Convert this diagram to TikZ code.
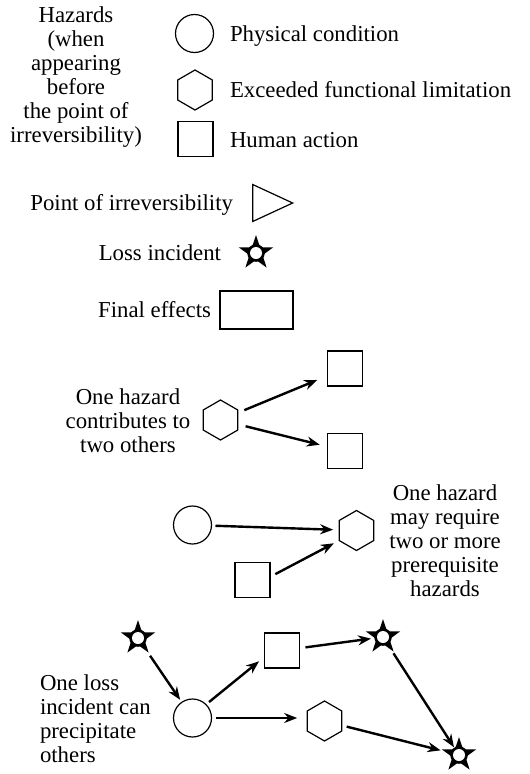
\documentclass[tikz,border=0pt]{standalone}
\usepackage{fontspec}
\setmainfont{Liberation Serif}
\usetikzlibrary{shapes.geometric,arrows.meta}
\begin{document}
\begin{tikzpicture}[x=1pt,y=-1pt,
  every node/.style={inner sep=0pt,outer sep=0pt},
  txt/.style={font=\fontsize{22.8}{24}\selectfont},
  shp/.style={draw,line width=1.2pt},
  circ/.style={shp,circle,minimum size=38pt},
  hexa/.style={shp,regular polygon,regular polygon sides=6,regular polygon rotate=30,minimum size=40pt},
  sqr/.style={shp,rectangle,minimum width=35pt,minimum height=35pt},
  lossstar/.style={star,star points=5,star point ratio=2.6,minimum size=36pt,fill=black},
  arr/.style={line width=2.4pt,-{Stealth[length=13pt,width=10pt]}},
]
\useasboundingbox (0,0) rectangle (530,774);

% legend of hazard symbols
\node[txt,align=center] (hz) at (76,77) {Hazards\\(when\\appearing\\before\\the point of\\irreversibility)};
\node[circ] (lc) at (194.5,33.5) {};
\node[hexa] (lh) at (195,90) {};
\node[sqr] (ls) at (195.5,139) {};
\node[txt,anchor=west] (lct) at (230,36) {Physical condition};
\node[txt,anchor=west] (lht) at (230,90) {Exceeded functional limitation};
\node[txt,anchor=west] (lst) at (230,140) {Human action};

% other legend symbols
\node[shp,isosceles triangle,isosceles triangle stretches,minimum width=37pt,minimum height=40pt] (tri) at (264.5,203) {};
\node[txt,anchor=east] (trit) at (233,205) {Point of irreversibility};
\node[lossstar] (lstar) at (256,253) {};
\node[txt,anchor=east] (lstart) at (221,253) {Loss incident};
\node[shp,rectangle,minimum width=73pt,minimum height=38pt] (fe) at (256.5,310) {};
\node[txt,anchor=east] (fet) at (211,310) {Final effects};

% one hazard contributes to two others
\node[txt,align=center] (t1) at (128,421) {One hazard\\contributes to\\two others};
\node[hexa] (h1) at (220.5,420) {};
\node[sqr] (s1a) at (345,368.5) {};
\node[sqr] (s1b) at (345,451) {};
\draw[arr,shorten <=7pt,shorten >=11pt] (h1) -- (s1a);
\draw[arr,shorten <=8pt,shorten >=8pt] (h1) -- (s1b);

% one hazard with several prerequisites
\node[circ] (c2) at (192.5,525) {};
\node[hexa] (h2) at (356.5,530.5) {};
\node[sqr] (s2) at (252.5,580) {};
\node[txt,align=center] (t2) at (445,541) {One hazard\\may require\\two or more\\prerequisite\\hazards};
\draw[arr,shorten <=4pt,shorten >=6pt] (c2) -- (h2);
\draw[arr,shorten <=6pt,shorten >=6pt] (s2.10) -- (h2.210);

% loss incidents precipitating others
\node[txt,align=left,anchor=west] (t3) at (40,719) {One loss\\incident can\\precipitate\\others};
\node[lossstar] (k1) at (138,638) {};
\node[circ] (c3) at (192.5,718) {};
\node[sqr] (s3) at (282,650.5) {};
\node[hexa] (h3) at (324.5,721) {};
\node[lossstar] (k2) at (383,637) {};
\node[lossstar] (k3) at (459,755) {};
\draw[arr,shorten <=5pt,shorten >=3pt] (k1) -- (c3);
\draw[arr,shorten <=4pt,shorten >=7pt] (c3.45) -- (s3.200);
\draw[arr,shorten <=4pt,shorten >=10pt] (c3.east) -- (c3.east -| h3.west);
\draw[arr,shorten <=6pt,shorten >=4pt] (s3) -- (k2);
\draw[arr,shorten <=4pt,shorten >=2pt] (k2) -- (k3);
\draw[arr,shorten <=5pt,shorten >=4pt] (h3) -- (k3);

% solid ring with a round hole in the middle of every star
\foreach \k in {lstar,k1,k2,k3} {
  \fill[black] (\k.center) circle (8.8pt);
  \fill[white] (\k.center) circle (6pt);
}
\end{tikzpicture}
\end{document}
